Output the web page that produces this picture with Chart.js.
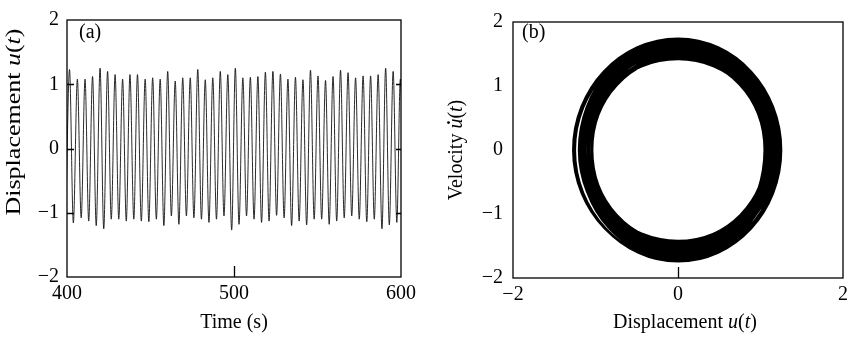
<!DOCTYPE html>
<html>
<head>
<meta charset="utf-8">
<script src="https://cdn.jsdelivr.net/npm/chart.js@4.4.0/dist/chart.umd.min.js"></script>
<style>
  html, body { margin: 0; padding: 0; background: #fff; }
  #wrap { position: relative; width: 853px; height: 337px; }
  #c1 { position: absolute; left: 0; top: 0; }
  #c2 { position: absolute; left: 430px; top: 0; }
</style>
</head>
<body>
<div id="wrap">
  <canvas id="c1" width="430" height="337"></canvas>
  <canvas id="c2" width="423" height="337"></canvas>
</div>
<script>
// (a) displacement time history: peaks and troughs
const peakTimes = [401.5, 406.2, 410.8, 415.3, 419.8, 424.3, 428.8, 433.3, 437.7, 442.2,
  446.8, 451.3, 455.8, 460.3, 464.8, 469.3, 473.8, 478.3, 482.8, 487.3,
  491.8, 496.3, 500.8, 505.3, 509.8, 514.3, 518.8, 523.3, 527.8, 532.3,
  536.8, 541.3, 545.8, 550.3, 554.8, 559.3, 563.8, 568.3, 572.8, 577.3,
  581.8, 586.3, 590.8, 595.3, 599.6];
const peaks = [1.23, 1.08, 1.08, 1.12, 1.25, 1.20, 1.15, 1.08, 1.15, 1.15,
  1.08, 1.10, 1.08, 1.20, 1.05, 1.10, 1.10, 1.23, 1.07, 1.10,
  1.20, 1.15, 1.25, 1.10, 1.11, 1.12, 1.19, 1.20, 1.16, 1.08,
  1.11, 1.07, 1.22, 1.13, 1.06, 1.12, 1.22, 1.18, 1.10, 1.13,
  1.13, 1.15, 1.25, 1.20, 1.08];
const troughTimes = [403.8, 408.5, 413.0, 417.5, 422.0, 426.5, 431.0, 435.5, 440.0, 444.5,
  449.0, 453.5, 458.0, 462.5, 467.0, 471.5, 476.0, 480.5, 485.0, 489.5,
  494.0, 498.6, 503.0, 507.5, 512.0, 516.5, 521.0, 525.5, 530.0, 534.5,
  539.0, 543.5, 548.0, 552.5, 557.0, 561.5, 566.0, 570.5, 575.0, 579.5,
  584.0, 588.6, 593.0, 597.5, 601.8];
const troughs = [-1.16, -1.08, -1.13, -1.20, -1.25, -1.10, -1.10, -1.13, -1.10, -1.13,
  -1.14, -1.10, -1.20, -1.05, -1.18, -1.05, -1.08, -1.10, -1.15, -1.10,
  -1.05, -1.27, -1.18, -1.05, -1.10, -1.15, -1.13, -1.04, -1.08, -1.20,
  -1.13, -1.19, -1.10, -1.10, -1.18, -1.13, -1.08, -1.05, -1.10, -1.14,
  -1.10, -1.25, -1.19, -1.15, -1.10];
const startTime = 399.3, startValue = -1.02;

// (b) phase plane: velocity extremes between the displacement extremes
const velDown = [-1.70, -1.48, -1.55, -1.64, -1.74, -1.60, -1.56, -1.43, -1.62, -1.66,
  -1.50, -1.45, -1.68, -1.44, -1.66, -1.47, -1.52, -1.71, -1.42, -1.54,
  -1.63, -1.73, -1.69, -1.46, -1.58, -1.65, -1.67, -1.44, -1.53, -1.69,
  -1.57, -1.72, -1.60, -1.45, -1.64, -1.70, -1.59, -1.48, -1.55, -1.66,
  -1.51, -1.74, -1.71, -1.62, -1.47];
const velUp = [1.58, 1.49, 1.66, 1.73, 1.70, 1.61, 1.44, 1.59, 1.65, 1.52,
  1.56, 1.68, 1.62, 1.45, 1.67, 1.48, 1.70, 1.60, 1.42, 1.66,
  1.72, 1.74, 1.57, 1.50, 1.63, 1.69, 1.64, 1.44, 1.61, 1.55,
  1.68, 1.65, 1.47, 1.60, 1.71, 1.69, 1.54, 1.46, 1.63, 1.59,
  1.70, 1.74, 1.71, 1.53];

const FONT = '"Liberation Serif", "Times New Roman", serif';
const minus = v => String(v).replace('-', '\u2212');

// time history points in time order
const history = [{ x: startTime, y: startValue }];
peakTimes.forEach((t, i) => {
  history.push({ x: t, y: peaks[i] });
  history.push({ x: troughTimes[i], y: troughs[i] });
});

// phase orbit: u extremes at zero velocity, velocity extremes at u = 0
const orbit = [];
peaks.forEach((p, i) => {
  orbit.push({ x: p, y: 0 });
  orbit.push({ x: 0, y: velDown[i] });
  orbit.push({ x: troughs[i], y: 0 });
  if (i < velUp.length) orbit.push({ x: 0, y: velUp[i] });
});

// parts: [text, italic, dotAbove]
function richText(ctx, parts, x, y, rotate, stretch) {
  ctx.save();
  ctx.translate(x, y);
  if (rotate) ctx.rotate(-Math.PI / 2);
  ctx.scale(stretch || 1, 1);
  ctx.fillStyle = '#000';
  ctx.textAlign = 'left';
  ctx.textBaseline = 'alphabetic';
  const fontOf = p => (p[1] ? 'italic ' : '') + '20px ' + FONT;
  let w = 0;
  parts.forEach(p => { ctx.font = fontOf(p); w += ctx.measureText(p[0]).width; });
  let cx = -w / 2;
  parts.forEach(p => {
    ctx.font = fontOf(p);
    const pw = ctx.measureText(p[0]).width;
    ctx.fillText(p[0], cx, 0);
    if (p[2]) {
      ctx.beginPath();
      ctx.arc(cx + pw * 0.6, -13.5, 1.4, 0, Math.PI * 2);
      ctx.fill();
    }
    cx += pw;
  });
  ctx.restore();
}

const frame = {
  id: 'frame',
  afterDatasetsDraw(chart, args, o) {
    const { ctx, chartArea: a, scales } = chart;
    ctx.save();
    ctx.strokeStyle = '#000';
    ctx.lineWidth = 1.3;
    ctx.strokeRect(a.left, a.top, a.right - a.left, a.bottom - a.top);
    ctx.beginPath();
    o.yTicks.forEach(v => {
      const y = Math.round(scales.y.getPixelForValue(v)) + 0.5;
      ctx.moveTo(a.left, y); ctx.lineTo(a.left + 7, y);
      ctx.moveTo(a.right, y); ctx.lineTo(a.right - 5, y);
    });
    o.xTicks.forEach(v => {
      const x = Math.round(scales.x.getPixelForValue(v)) + 0.5;
      ctx.moveTo(x, a.bottom); ctx.lineTo(x, a.bottom - 11);
    });
    ctx.stroke();
    ctx.fillStyle = '#000';
    ctx.font = '20px ' + FONT;
    ctx.textAlign = 'left';
    ctx.fillText(o.tag, o.tagX, 38);
    richText(ctx, o.xTitle, o.xTitleX, 328, false, 1);
    richText(ctx, o.yTitle, o.yTitleX, o.yTitleY, true, o.yStretch);
    ctx.restore();
  }
};

function axes(xMin, xMax, xStep, yLeft, xHeight, yPad) {
  const tickFont = { family: FONT, size: 20 };
  return {
    x: {
      type: 'linear', min: xMin, max: xMax,
      grid: { display: false, drawTicks: false }, border: { display: false },
      ticks: { stepSize: xStep, color: '#000', font: tickFont, padding: 5,
               maxRotation: 0, autoSkip: false, callback: minus },
      afterFit: s => { s.height = xHeight; }
    },
    y: {
      type: 'linear', min: -2, max: 2,
      grid: { display: false, drawTicks: false }, border: { display: false },
      ticks: { stepSize: 1, color: '#000', font: tickFont, padding: yPad,
               autoSkip: false, callback: minus },
      afterFit: s => { s.width = yLeft; }
    }
  };
}

new Chart(document.getElementById('c1'), {
  type: 'line',
  data: {
    datasets: [{
      data: history,
      borderColor: '#111',
      borderWidth: 0.9,
      pointRadius: 0,
      cubicInterpolationMode: 'monotone'
    }]
  },
  options: {
    responsive: false,
    animation: false,
    layout: { padding: { top: 15, right: 29, left: 0, bottom: 0 } },
    scales: axes(400, 600, 100, 67, 60, 8),
    plugins: {
      legend: { display: false },
      tooltip: { enabled: false },
      frame: {
        yTicks: [-1, 0, 1], xTicks: [500], tag: '(a)', tagX: 79,
        xTitle: [['Time (s)', false]], xTitleX: 234,
        yTitle: [['Displacement ', false], ['u', true], ['(', false], ['t', true], [')', false]],
        yTitleX: 20, yTitleY: 122, yStretch: 1.3
      }
    }
  },
  plugins: [frame]
});

const lastSeg = orbit.length - 1;
new Chart(document.getElementById('c2'), {
  type: 'scatter',
  data: {
    datasets: [{
      data: orbit,
      showLine: true,
      borderColor: '#000',
      borderWidth: 2.4,
      pointRadius: 0,
      tension: 0.55,
      // the open ends of the orbit have no neighbour to shape their curve
      segment: {
        borderColor: c => (c.p0DataIndex === 0 || c.p1DataIndex === lastSeg) ? 'rgba(0,0,0,0)' : undefined
      }
    }]
  },
  options: {
    responsive: false,
    animation: false,
    layout: { padding: { top: 15, right: 6, left: 0, bottom: 0 } },
    scales: axes(-2, 2, 2, 83, 59, 10),
    plugins: {
      legend: { display: false },
      tooltip: { enabled: false },
      frame: {
        yTicks: [], xTicks: [0], tag: '(b)', tagX: 92,
        xTitle: [['Displacement ', false], ['u', true], ['(', false], ['t', true], [')', false]],
        xTitleX: 255,
        yTitle: [['Velocity ', false], ['u', true, true], ['(', false], ['t', true], [')', false]],
        yTitleX: 32, yTitleY: 150, yStretch: 1
      }
    }
  },
  plugins: [frame]
});
</script>
</body>
</html>
